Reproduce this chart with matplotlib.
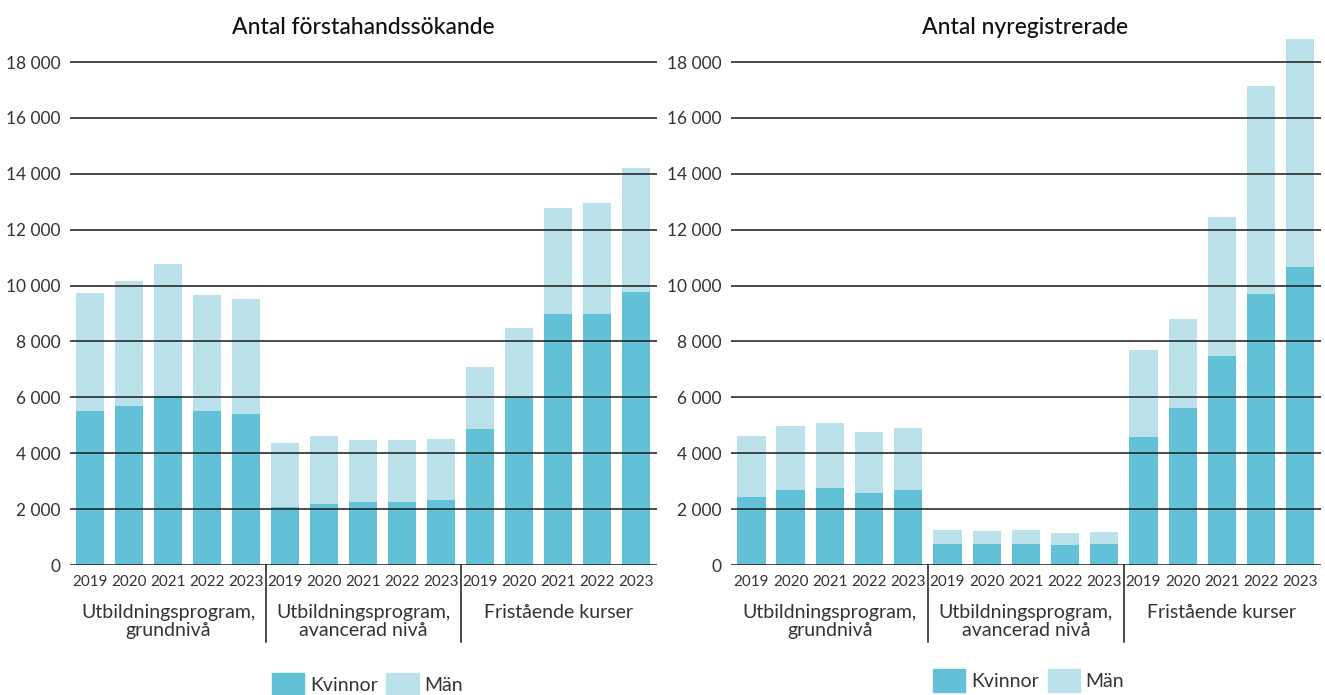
import matplotlib.pyplot as plt
import numpy as np
from matplotlib.patches import Patch

# data
years = ['2019', '2020', '2021', '2022', '2023']
groups = ['Utbildningsprogram,\ngrundnivå', 'Utbildningsprogram,\navancerad nivå', 'Fristående kurser']

sok_kvinnor = [5500, 5700, 6050, 5500, 5400,
               2080, 2180, 2250, 2250, 2330,
               4870, 6010, 8980, 8980, 9770]
sok_total = [9730, 10160, 10770, 9660, 9520,
             4370, 4620, 4470, 4470, 4510,
             7090, 8480, 12780, 12960, 14210]

reg_kvinnor = [2430, 2680, 2760, 2580, 2680,
               750, 750, 750, 720, 750,
               4580, 5620, 7480, 9700, 10670]
reg_total = [4620, 4970, 5080, 4760, 4900,
             1250, 1220, 1250, 1150, 1180,
             7690, 8800, 12450, 17140, 18830]

C_KV = '#62c1d6'
C_MAN = '#bbe1eb'
TXT = '#333333'

plt.rcParams['font.family'] = ['Lato', 'DejaVu Sans']

fig = plt.figure(figsize=(13.25, 6.95), dpi=100)


def panel(rect, title, tx, kvinnor, total):
    ax = fig.add_axes(rect)
    x = np.arange(len(kvinnor))
    man = np.array(total) - np.array(kvinnor)
    ax.bar(x, kvinnor, width=0.72, color=C_KV, zorder=1)
    ax.bar(x, man, width=0.72, bottom=kvinnor, color=C_MAN, zorder=1)
    ax.set_xlim(-0.52, 14.53)
    ax.set_ylim(0, 19000)
    yt = np.arange(0, 18001, 2000)
    ax.set_yticks(yt)
    ax.set_yticklabels([f'{v:,}'.replace(',', ' ') for v in yt])
    for v in yt:
        ax.axhline(v, color='#1a1a1a', lw=1.1, zorder=3)
    ax.set_xticks(x)
    ax.set_xticklabels(years * 3)
    ax.tick_params(axis='x', length=0, pad=7, labelsize=11, labelcolor=TXT)
    ax.tick_params(axis='y', length=0, pad=7, labelsize=12.5, labelcolor=TXT)
    for s in ['left', 'right', 'top', 'bottom']:
        ax.spines[s].set_visible(False)
    for sx in [4.5, 9.5]:
        ax.plot([sx, sx], [0, -0.145], color='#1a1a1a', lw=1.1,
                transform=ax.get_xaxis_transform(), clip_on=False)
    for i, g in enumerate(groups):
        ax.text(2 + 5 * i, -0.073, g, transform=ax.get_xaxis_transform(),
                ha='center', va='top', fontsize=14, color=TXT, linespacing=1.08)
    fig.text(tx, 0.961, title, ha='center', va='center', fontsize=16.5,
             color='#111111', fontweight='medium')
    return ax


panel([0.0528, 0.187, 0.443, 0.764], 'Antal förstahandssökande', 0.274, sok_kvinnor, sok_total)
panel([0.5517, 0.187, 0.4453, 0.764], 'Antal nyregistrerade', 0.774, reg_kvinnor, reg_total)

handles = [Patch(color=C_KV, label='Kvinnor'), Patch(color=C_MAN, label='Män')]
for bx, by in [(0.198, 0.045), (0.697, 0.052)]:
    fig.legend(handles=handles, loc='upper left', bbox_to_anchor=(bx, by),
               ncol=2, frameon=False, fontsize=14, handlelength=1.65, handleheight=1.45,
               handletextpad=0.3, columnspacing=0.45, borderpad=0, labelcolor=TXT)

fig.savefig('out.png', dpi=100)
